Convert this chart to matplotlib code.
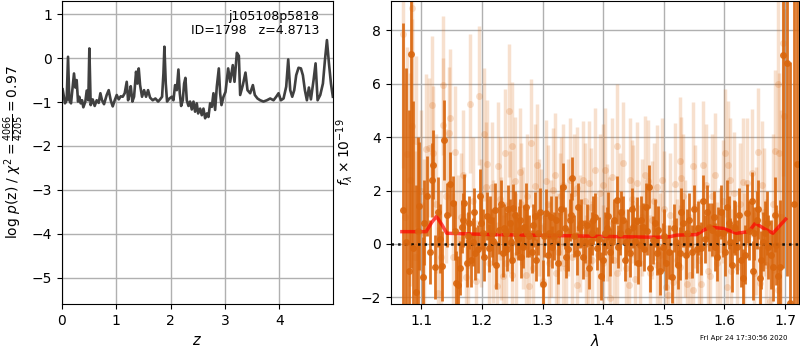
import matplotlib
matplotlib.use("Agg")
import matplotlib.pyplot as plt

# ---------------- p(z) panel data ----------------
pz_z = [0.012, 0.055, 0.086, 0.111, 0.135, 0.166, 0.221, 0.246, 0.270, 0.295,
        0.319, 0.344, 0.369, 0.393, 0.430, 0.455, 0.485, 0.504, 0.528, 0.565,
        0.602, 0.639, 0.676, 0.707, 0.737, 0.774, 0.823, 0.860, 0.897, 0.934,
        0.971, 1.008, 1.045, 1.081, 1.118, 1.155, 1.192, 1.217, 1.241, 1.266,
        1.296, 1.327, 1.364, 1.389, 1.413, 1.438, 1.474, 1.511, 1.548, 1.585,
        1.622, 1.671, 1.720, 1.770, 1.806, 1.843, 1.868, 1.886, 1.911, 1.935,
        1.978, 2.022, 2.052, 2.083, 2.114, 2.144, 2.169, 2.194, 2.224, 2.249,
        2.273, 2.298, 2.329, 2.359, 2.390, 2.421, 2.451, 2.482, 2.507, 2.544,
        2.574, 2.605, 2.636, 2.667, 2.697, 2.728, 2.759, 2.789, 2.820, 2.851,
        2.888, 2.912, 2.937, 2.974, 3.011, 3.060, 3.097, 3.145, 3.177, 3.220,
        3.257, 3.281, 3.330, 3.379, 3.416, 3.465, 3.515, 3.551, 3.600, 3.650,
        3.710, 3.773, 3.834, 3.896, 3.945, 3.988, 4.031, 4.080, 4.129, 4.166,
        4.203, 4.240, 4.277, 4.313, 4.356, 4.400, 4.436, 4.473, 4.510, 4.547,
        4.584, 4.633, 4.670, 4.707, 4.756, 4.805, 4.842, 4.879, 4.916, 4.953,
        4.988]
pz_logp = [-0.71, -1.03, -0.96, 0.03, -0.96, -1.03, -0.35, -0.67, -0.50, -0.99,
           -0.88, -1.03, -0.96, -1.12, -0.99, -0.74, -0.96, 0.22, -1.07, -0.94,
           -1.09, -0.96, -1.02, -0.80, -0.96, -1.05, -0.84, -0.73, -0.96, -1.10,
           -0.96, -0.84, -0.94, -0.87, -0.88, -0.80, -0.54, -0.96, -0.84, -0.64,
           -0.99, -0.88, -0.31, -0.58, -0.235, -0.615, -0.88, -0.73, -0.88, -0.73,
           -0.90, -0.96, -0.92, -0.99, -0.94, -0.88, -0.35, 0.26, -0.58, -0.99,
           -0.92, -0.88, -0.96, -0.615, -0.73, -0.26, -0.80, -1.09, -0.96, -0.58,
           -0.45, -0.96, -1.09, -0.99, -1.17, -0.99, -1.22, -1.03, -1.26, -1.15,
           -1.30, -1.15, -1.37, -1.26, -1.34, -1.03, -1.11, -0.80, -1.18, -0.65,
           -0.235, -0.80, -1.07, -0.88, -0.77, -0.235, -0.54, -0.16, -0.54, 0.12,
           0.05, -0.84, -0.615, -0.33, -0.73, -0.80, -0.615, -0.84, -0.92, -0.96,
           -0.99, -0.96, -0.92, -0.96, -0.88, -0.80, -0.96, -0.92, -0.65, -0.03,
           -0.73, -0.88, -0.73, -0.39, -0.22, -0.235, -0.39, -0.73, -0.96, -0.67,
           -0.94, -0.50, -0.12, -0.96, -0.84, -0.58, -0.05, 0.41, -0.12, -0.58,
           -0.88]

# ---------------- spectrum panel data ----------------
# dark (primary) spectrum points, part A
dark_wave_a = [1.069, 1.074, 1.083, 1.087, 1.092, 1.097, 1.102, 1.110, 1.115, 1.120,
               1.123, 1.134, 1.138, 1.147, 1.152, 1.157, 1.161, 1.167, 1.171, 1.175,
               1.179, 1.185, 1.189, 1.196, 1.201, 1.208, 1.211, 1.217, 1.221, 1.228,
               1.234, 1.239, 1.243, 1.248, 1.252, 1.257, 1.261, 1.265, 1.270, 1.275,
               1.283, 1.287, 1.293, 1.301, 1.306, 1.311, 1.316, 1.322, 1.327, 1.334,
               1.339, 1.345, 1.349, 1.356, 1.361, 1.364, 1.370, 1.378, 1.383, 1.390,
               1.396, 1.403, 1.408, 1.415, 1.422, 1.427, 1.433, 1.438, 1.444, 1.450,
               1.456, 1.461, 1.466, 1.470, 1.475, 1.482, 1.488, 1.491, 1.498, 1.504,
               1.513, 1.520, 1.527, 1.532, 1.539, 1.546, 1.554, 1.562, 1.571, 1.575,
               1.579, 1.585, 1.590, 1.598, 1.604, 1.609, 1.616, 1.620, 1.627, 1.631,
               1.637, 1.645, 1.649, 1.653, 1.658, 1.663, 1.667, 1.672, 1.680, 1.685,
               1.692, 1.697, 1.703, 1.708, 1.714, 1.719]
dark_flux_a = [1.28, 0.09, 7.10, -0.16, -1.79, 1.43, -1.23, 1.78, -0.29, 2.97,
               -0.85, -0.83, 3.91, 2.24, 1.53, -1.48, -1.54, 0.65, 1.53, -0.73,
               0.80, 0.09, -0.35, 1.80, 0.40, 1.03, -0.16, 0.40, 1.28, 0.53,
               -0.35, 0.40, 1.30, 0.09, 1.33, 0.40, 0.53, -0.48, 0.65, 0.40,
               -0.29, 1.03, 0.40, -1.51, 1.15, 0.40, -0.11, 0.90, 0.40, 2.15,
               -0.48, 0.90, 2.46, -0.35, 0.65, 0.80, 0.09, 0.09, 0.90, -0.16,
               -1.20, 0.40, 1.03, 0.09, 1.65, 0.40, 0.90, 0.09, -0.35, 0.65,
               0.85, -0.04, 0.65, 1.40, 2.15, 0.15, -0.35, 0.53, -0.11, -0.73,
               -1.23, 0.09, -0.35, 0.80, 0.40, -0.29, -0.19, -0.16, 1.20, 0.65,
               0.53, -0.11, 0.40, 0.40, 1.40, 0.09, 0.65, -0.11, -0.60, -1.29,
               1.15, 1.59, 0.40, 0.90, -1.29, 0.09, 0.40, -0.11, -0.85, -0.04,
               -0.85, 7.09, 6.79, -2.20, 1.50, 3.00]
dark_err_a = [7.0, 6.5, 8.0, 5.5, 4.0, 2.4, 1.5, 1.5, 1.2, 1.3,
              1.2, 1.3, 1.5, 1.2, 1.0, 1.2, 1.1, 1.0, 1.1, 0.9,
              1.0, 0.9, 1.0, 1.0, 0.9, 0.9, 0.9, 0.9, 1.0, 0.9,
              0.9, 0.8, 0.9, 0.8, 0.9, 0.8, 0.9, 0.8, 0.8, 0.9,
              0.8, 0.9, 0.8, 0.9, 0.9, 0.8, 0.8, 0.9, 0.8, 0.9,
              0.8, 0.8, 0.8, 0.8, 0.8, 0.9, 0.8, 0.8, 0.9, 0.8,
              0.9, 0.8, 0.9, 0.8, 0.9, 0.8, 0.9, 0.8, 0.9, 0.8,
              0.9, 0.8, 0.9, 0.9, 0.8, 0.9, 0.8, 0.9, 0.9, 1.0,
              1.0, 0.9, 1.0, 0.9, 0.9, 1.0, 0.9, 1.0, 1.0, 0.9,
              1.0, 0.9, 1.0, 0.9, 1.0, 0.9, 1.0, 1.0, 1.0, 1.1,
              1.1, 1.1, 1.0, 1.1, 1.2, 1.1, 1.2, 1.2, 1.3, 1.5,
              2.5, 8.0, 8.0, 9.0, 8.0, 9.0]

# dark spectrum points, part B
dark_wave_b = [1.079, 1.095, 1.105, 1.117, 1.127, 1.131, 1.143, 1.155, 1.164, 1.169,
               1.177, 1.182, 1.187, 1.193, 1.199, 1.204, 1.213, 1.219, 1.224, 1.231,
               1.236, 1.241, 1.246, 1.250, 1.255, 1.259, 1.263, 1.268, 1.273, 1.278,
               1.285, 1.290, 1.296, 1.303, 1.309, 1.314, 1.319, 1.325, 1.330, 1.337,
               1.342, 1.347, 1.352, 1.359, 1.367, 1.373, 1.376, 1.381, 1.387, 1.393,
               1.399, 1.406, 1.411, 1.418, 1.425, 1.430, 1.436, 1.441, 1.447, 1.453,
               1.458, 1.463, 1.468, 1.473, 1.478, 1.485, 1.494, 1.501, 1.508, 1.516,
               1.523, 1.529, 1.536, 1.542, 1.550, 1.557, 1.565, 1.568, 1.582, 1.587,
               1.594, 1.601, 1.607, 1.613, 1.618, 1.624, 1.634, 1.641, 1.647, 1.656,
               1.661, 1.670, 1.676, 1.683, 1.688]
dark_flux_b = [-1.0, 0.5, 0.8, 2.4, 1.2, 0.2, 1.1, 0.5, -0.9, 0.9,
               0.3, -0.6, 1.2, -0.2, 0.8, -0.5, 0.9, 0.1, -0.8, 1.5,
               0.6, -0.2, 0.8, -0.6, 1.1, 0.2, 0.9, -0.1, 1.4, 0.3,
               0.7, -0.6, 1.2, 0.3, -0.4, 1.0, 0.3, -0.7, 1.3, 0.6,
               -0.2, 1.1, 0.3, 1.4, -0.5, 0.7, -0.9, 0.4, 1.0, 0.2,
               -0.6, 0.6, -0.3, 0.9, -0.1, 1.2, -0.6, 0.5, 1.3, 0.1,
               -0.7, 0.9, -0.2, 0.5, -0.9, 0.8, -1.0, 0.3, -0.3, 0.6,
               -0.8, 1.2, -0.4, 0.9, 1.3, 0.6, 1.6, 0.2, 1.0, -0.5,
               1.2, -0.3, 0.8, -0.8, 0.6, 1.1, -0.4, 0.5, -1.0, 1.3,
               -0.6, 0.8, -0.4, 1.1, -1.2]
dark_err_b = [6.0, 3.5, 1.6, 1.4, 1.3, 1.3, 1.2, 1.1, 1.0, 1.0,
              0.9, 1.0, 0.9, 0.9, 1.0, 0.9, 0.9, 0.9, 0.9, 0.9,
              0.9, 0.8, 0.9, 0.8, 0.9, 0.8, 0.8, 0.8, 0.9, 0.8,
              0.8, 0.8, 0.9, 0.8, 0.8, 0.8, 0.9, 0.8, 0.9, 0.8,
              0.8, 0.8, 0.8, 0.9, 0.8, 0.8, 0.8, 0.8, 0.9, 0.8,
              0.8, 0.8, 0.9, 0.8, 0.8, 0.8, 0.8, 0.8, 0.8, 0.9,
              0.8, 0.9, 0.8, 0.9, 0.9, 0.9, 0.9, 1.0, 1.0, 0.9,
              0.9, 0.9, 0.9, 1.0, 0.9, 1.0, 1.0, 0.9, 1.0, 0.9,
              1.0, 0.9, 1.0, 1.0, 1.0, 1.0, 1.1, 1.1, 1.1, 1.1,
              1.1, 1.2, 1.3, 1.4, 1.8]

# light (secondary) spectrum points, part A
light_wave_a = [1.070, 1.085, 1.077, 1.081, 1.085, 1.092, 1.102, 1.108, 1.113, 1.117,
                1.120, 1.128, 1.136, 1.136, 1.146, 1.148, 1.156, 1.152, 1.165, 1.173,
                1.181, 1.195, 1.203, 1.207, 1.212, 1.216, 1.225, 1.226, 1.232, 1.238,
                1.240, 1.244, 1.250, 1.250, 1.254, 1.265, 1.272, 1.278, 1.281, 1.287,
                1.291, 1.298, 1.306, 1.311, 1.317, 1.322, 1.328, 1.334, 1.334, 1.345,
                1.356, 1.356, 1.370, 1.375, 1.377, 1.382, 1.387, 1.399, 1.400, 1.403,
                1.410, 1.411, 1.422, 1.422, 1.433, 1.442, 1.444, 1.450, 1.455, 1.460,
                1.474, 1.480, 1.488, 1.488, 1.500, 1.507, 1.515, 1.519, 1.527, 1.527,
                1.529, 1.535, 1.543, 1.548, 1.548, 1.562, 1.565, 1.576, 1.580, 1.587,
                1.601, 1.604, 1.606, 1.610, 1.620, 1.625, 1.630, 1.645, 1.648, 1.656,
                1.659, 1.665, 1.675, 1.689, 1.689, 1.690, 1.696]
light_flux_a = [7.86, 8.82, 3.38, 2.41, 4.41, 3.85, -1.23, 3.56, 3.60, 5.19,
                3.41, -1.85, 5.94, 4.46, 4.14, 4.71, 3.43, -0.48, 1.00, -1.23,
                5.26, 5.55, 4.10, 2.15, -0.73, 2.15, -1.58, 2.93, 0.20, 3.41,
                -0.73, 4.99, 3.68, -1.17, 2.34, 1.50, -1.17, -1.58, 3.78, 2.18,
                2.94, 0.60, 2.34, -0.73, 2.03, -1.10, 1.20, 2.21, -0.73, 2.40,
                2.09, -1.54, 1.60, -0.73, 2.30, -0.60, 2.78, 2.21, -0.73, 2.78,
                0.30, -2.04, 3.68, -1.10, 3.03, -1.54, 2.40, 1.50, 2.28, -0.73,
                2.34, 0.90, 2.15, -0.79, 1.30, -1.92, -1.42, 2.24, 3.10, -0.85,
                2.47, 0.20, -1.17, 2.91, -1.73, -1.50, 2.96, -1.20, 1.80, -0.73,
                3.41, -1.60, 2.96, 2.40, -0.85, 1.50, 2.32, 2.65, -1.10, 3.46,
                -1.48, 1.20, -2.15, 5.99, -1.73, 3.41, 7.54]
light_err_a = [5.0, 6.0, 4.0, 4.0, 4.0, 3.2, 2.8, 2.8, 2.6, 2.6,
               2.5, 2.5, 2.6, 2.5, 2.5, 2.6, 2.5, 2.4, 2.4, 2.4,
               2.6, 2.6, 2.5, 2.4, 2.4, 2.4, 2.4, 2.4, 2.3, 2.4,
               2.3, 2.5, 2.4, 2.3, 2.4, 2.3, 2.3, 2.3, 2.4, 2.3,
               2.3, 2.2, 2.3, 2.3, 2.3, 2.2, 2.2, 2.3, 2.2, 2.3,
               2.3, 2.2, 2.2, 2.2, 2.3, 2.2, 2.3, 2.3, 2.2, 2.3,
               2.2, 2.2, 2.3, 2.2, 2.3, 2.2, 2.3, 2.2, 2.3, 2.2,
               2.3, 2.2, 2.3, 2.2, 2.2, 2.3, 2.3, 2.3, 2.4, 2.3,
               2.3, 2.2, 2.3, 2.4, 2.3, 2.3, 2.4, 2.3, 2.3, 2.3,
               2.4, 2.3, 2.4, 2.3, 2.3, 2.3, 2.4, 2.4, 2.3, 2.4,
               2.4, 2.4, 2.5, 4.0, 3.0, 3.0, 5.0]

# light spectrum points, part B
light_wave_b = [1.073, 1.089, 1.099, 1.105, 1.124, 1.132, 1.140, 1.160, 1.169, 1.177,
                1.186, 1.190, 1.199, 1.209, 1.219, 1.229, 1.235, 1.246, 1.257, 1.262,
                1.268, 1.275, 1.284, 1.294, 1.301, 1.309, 1.314, 1.320, 1.325, 1.331,
                1.339, 1.342, 1.349, 1.352, 1.361, 1.366, 1.372, 1.380, 1.391, 1.395,
                1.406, 1.415, 1.418, 1.427, 1.437, 1.447, 1.452, 1.464, 1.469, 1.477,
                1.484, 1.493, 1.497, 1.504, 1.511, 1.522, 1.532, 1.539, 1.552, 1.558,
                1.570, 1.573, 1.584, 1.592, 1.597, 1.611, 1.616, 1.633, 1.638, 1.652,
                1.662, 1.669, 1.680, 1.684, 1.693, 1.698]
light_flux_b = [1.0, -0.5, 2.0, 0.4, 1.5, -0.5, 1.8, 0.2, 2.6, -0.8,
                1.6, -1.4, 0.8, 3.0, 0.1, 1.7, -1.2, 1.2, -0.4, 2.7,
                0.6, 1.8, -0.9, 1.0, -1.4, 1.5, 0.2, 2.6, -0.3, 1.8,
                -0.9, 1.0, -0.5, 1.9, 0.4, 2.4, -1.1, 1.4, -0.4, 1.9,
                0.8, 2.5, -0.6, 1.2, -0.9, 1.7, -1.3, 1.0, 2.6, -1.1,
                1.6, -0.4, 2.4, -1.6, 1.1, -0.6, 1.8, -1.5, 1.4, -0.6,
                2.2, -1.0, 2.6, -0.2, 1.6, -1.0, 1.9, -0.5, 2.3, 0.5,
                2.2, -0.8, 1.5, 3.5, 1.0, 4.8]
light_err_b = [5.0, 4.0, 3.0, 2.8, 2.6, 2.5, 2.5, 2.4, 2.4, 2.3,
               2.4, 2.3, 2.4, 2.4, 2.3, 2.3, 2.3, 2.3, 2.3, 2.4,
               2.3, 2.3, 2.2, 2.2, 2.2, 2.2, 2.2, 2.3, 2.2, 2.2,
               2.2, 2.2, 2.2, 2.2, 2.2, 2.2, 2.2, 2.2, 2.2, 2.2,
               2.2, 2.2, 2.2, 2.2, 2.2, 2.2, 2.2, 2.2, 2.2, 2.2,
               2.2, 2.3, 2.3, 2.3, 2.3, 2.3, 2.3, 2.3, 2.3, 2.3,
               2.3, 2.3, 2.3, 2.3, 2.3, 2.3, 2.3, 2.4, 2.4, 2.4,
               2.4, 2.5, 2.6, 3.0, 4.0, 4.0]

model_wave = [1.068, 1.108, 1.117, 1.125, 1.134, 1.142, 1.218, 1.333, 1.433, 1.490,
              1.510, 1.521, 1.554, 1.566, 1.576, 1.598, 1.620, 1.640, 1.651, 1.665,
              1.680, 1.701]
model_flux = [0.46, 0.46, 0.80, 1.03, 0.72, 0.40, 0.35, 0.31, 0.27, 0.25,
              0.27, 0.33, 0.35, 0.52, 0.63, 0.58, 0.40, 0.46, 0.78, 0.58,
              0.40, 0.93]

title_lines = ["j105108p5818", "ID=1798   z=4.8713"]
timestamp = "Fri Apr 24 17:30:56 2020"

orange = (0.85, 0.40, 0.05)

fig = plt.figure(figsize=(8, 3.5), dpi=100)
ax1 = fig.add_axes([0.0775, 0.1314, 0.3387, 0.8657])
ax2 = fig.add_axes([0.48875, 0.1314, 0.5100, 0.8657])

# left panel
ax1.plot(pz_z, pz_logp, color='0.25', lw=1.9)
ax1.set_xlim(0, 4.99)
ax1.set_ylim(-5.6, 1.3)
ax1.grid(True, color='#b0b0b0', lw=1)
ax1.set_axisbelow(True)
ax1.set_xlabel('$z$', fontsize=10.5)
ax1.set_ylabel(r'log $p$(z) / $\chi^2=\frac{4066}{4205}=0.97$', fontsize=10)
ax1.text(0.95, 0.97, "\n".join(title_lines), transform=ax1.transAxes,
         ha='right', va='top', fontsize=9, linespacing=1.1)
ax1.tick_params(labelsize=10)

# right panel
for w, f, e in ((light_wave_a, light_flux_a, light_err_a),
                (light_wave_b, light_flux_b, light_err_b)):
    ax2.errorbar(w, f, yerr=e, fmt='o', color=orange, alpha=0.2, ms=5,
                 elinewidth=2.5, capsize=0, mec='none')
for w, f, e in ((dark_wave_a, dark_flux_a, dark_err_a),
                (dark_wave_b, dark_flux_b, dark_err_b)):
    ax2.errorbar(w, f, yerr=e, fmt='o', color=orange, alpha=0.9, ms=5,
                 elinewidth=2, capsize=0, mec='none')
ax2.plot(model_wave, model_flux, color='r', lw=2.5, alpha=0.7)
ax2.axhline(0, color='k', ls=':', lw=1.8, alpha=0.9)
ax2.set_xlim(1.05, 1.723)
ax2.set_ylim(-2.25, 9.1)
ax2.grid(True, color='#b0b0b0', lw=1)
ax2.set_xlabel(r'$\lambda$', fontsize=10.5)
ax2.set_ylabel(r'$f_\lambda \times 10^{-19}$', fontsize=10)
ax2.set_xticks([1.1, 1.2, 1.3, 1.4, 1.5, 1.6, 1.7])
ax2.tick_params(labelsize=10)

fig.text(0.985, 0.025, timestamp, ha='right', va='bottom', fontsize=5)

fig.savefig('out.png', dpi=100)
